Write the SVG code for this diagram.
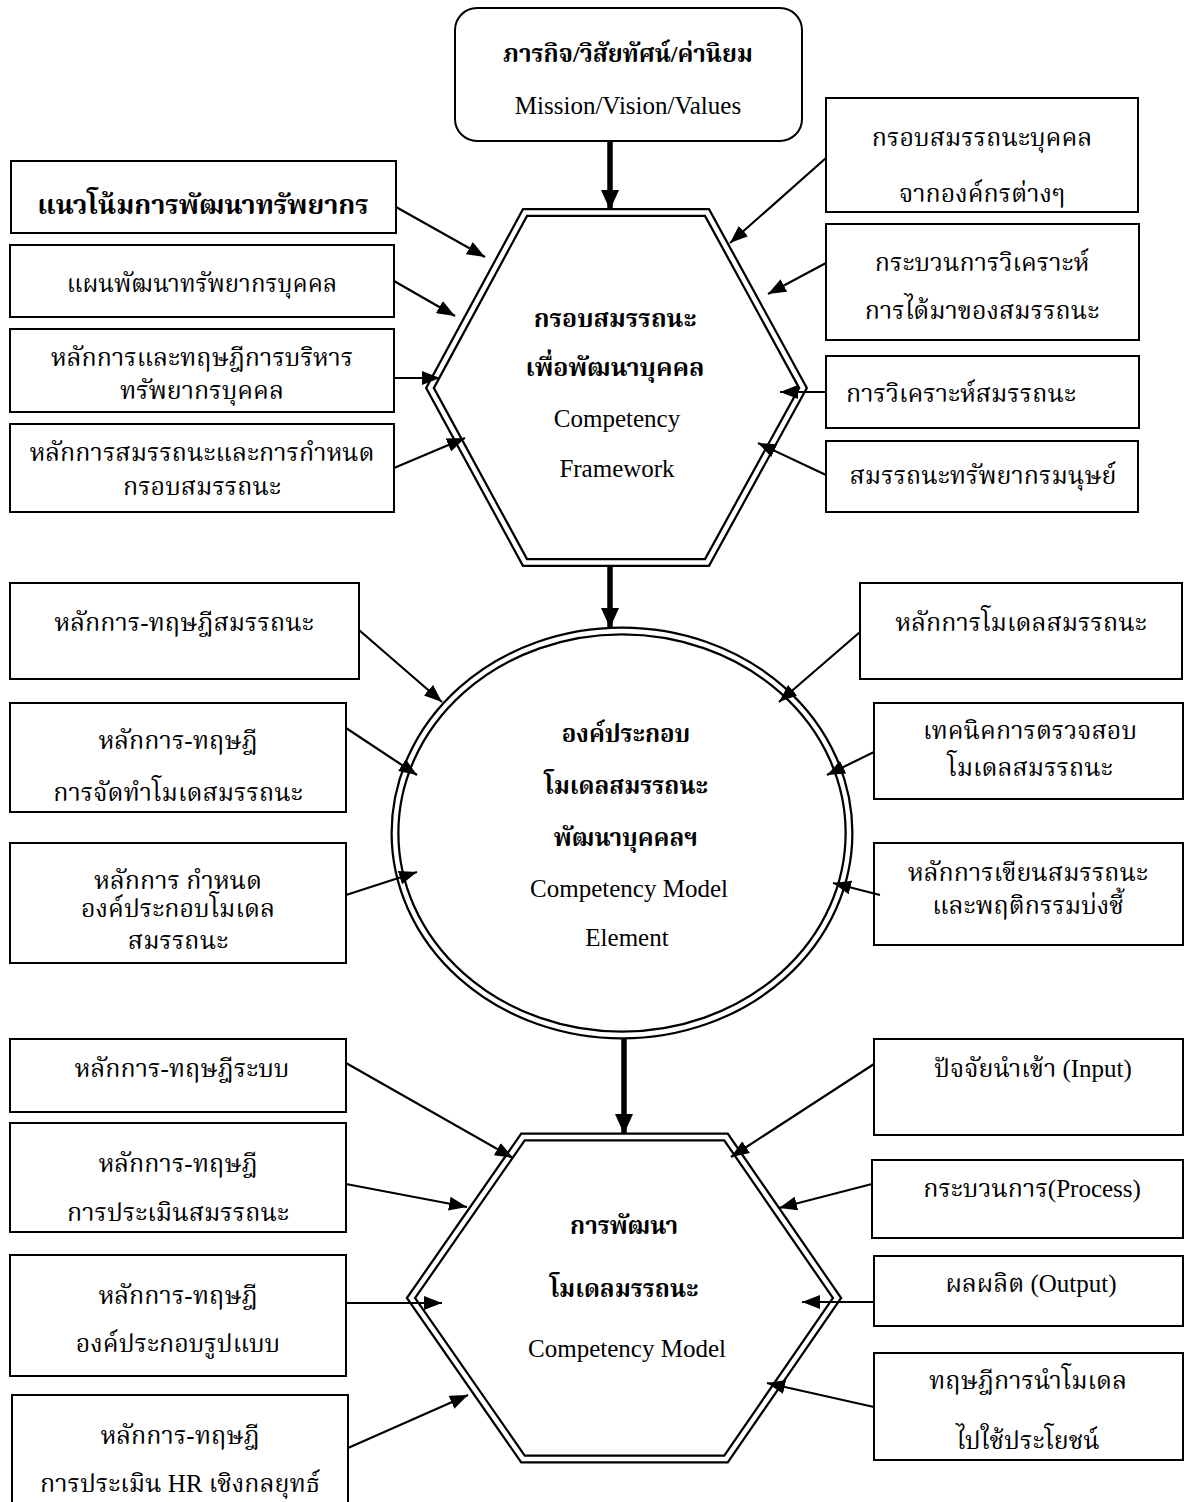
<svg xmlns="http://www.w3.org/2000/svg" width="1184" height="1502" viewBox="0 0 1184 1502">
<defs>
<style>
.box{fill:#fff;stroke:#000;stroke-width:2}
.t{font-family:"Liberation Serif","Noto Serif Thai","Noto Sans Thai Looped","Noto Sans Thai",serif;font-size:25px;fill:#000;text-anchor:middle}
.tb{font-family:"Liberation Serif","Noto Serif Thai","Noto Sans Thai Looped","Noto Sans Thai",serif;font-size:24px;font-weight:bold;fill:#000;text-anchor:middle}
.en{font-family:"Liberation Serif",serif;font-size:25px;fill:#000;text-anchor:middle}
.dbl{fill:#fff;stroke:#000;stroke-width:9;stroke-linejoin:miter}
.dblw{fill:none;stroke:#fff;stroke-width:4.5;stroke-linejoin:miter}
.c{fill:none;stroke:#000;stroke-width:2.2}
.ck{fill:none;stroke:#000;stroke-width:5.5}
</style>
<marker id="ah" markerUnits="userSpaceOnUse" markerWidth="18" markerHeight="14" refX="18" refY="7" orient="auto"><path d="M0,0 L18,7 L0,14 z" fill="#000"/></marker>
<marker id="ahk" markerUnits="userSpaceOnUse" markerWidth="20" markerHeight="18" refX="20" refY="9" orient="auto"><path d="M0,0 L20,9 L0,18 z" fill="#000"/></marker>
</defs>
<rect width="1184" height="1502" fill="#fff"/>

<g id="mission">
<rect class="box" x="455" y="8" width="347" height="133" rx="22" ry="22"/>
<text class="tb" x="628" y="62">ภารกิจ/วิสัยทัศน์/ค่านิยม</text>
<text class="en" x="628" y="114">Mission/Vision/Values</text>
</g>

<g id="hex1">
<polygon class="dbl" points="525,212.5 707,212.5 803,388 707,562.5 525,562.5 430,388"/>
<polygon class="dblw" points="525,212.5 707,212.5 803,388 707,562.5 525,562.5 430,388"/>
<text class="tb" x="615" y="327" style="font-size:25px">กรอบสมรรถนะ</text>
<text class="tb" x="615" y="376" style="font-size:25px">เพื่อพัฒนาบุคคล</text>
<text class="en" x="617" y="427">Competency</text>
<text class="en" x="617" y="477">Framework</text>
</g>

<g id="ellipse">
<ellipse class="dbl" cx="622" cy="833" rx="227" ry="202"/>
<ellipse class="dblw" cx="622" cy="833" rx="227" ry="202"/>
<text class="tb" x="626" y="742">องค์ประกอบ</text>
<text class="tb" x="626" y="794">โมเดลสมรรถนะ</text>
<text class="tb" x="626" y="846">พัฒนาบุคคลฯ</text>
<text class="en" x="629" y="897">Competency Model</text>
<text class="en" x="627" y="946">Element</text>
</g>

<g id="hex3">
<polygon class="dbl" points="523,1137 726,1137 837,1298 726,1459 523,1459 411,1298"/>
<polygon class="dblw" points="523,1137 726,1137 837,1298 726,1459 523,1459 411,1298"/>
<text class="tb" x="624" y="1234">การพัฒนา</text>
<text class="tb" x="624" y="1297">โมเดลมรรถนะ</text>
<text class="en" x="627" y="1357">Competency Model</text>
</g>

<g id="l1"><rect class="box" x="11" y="161" width="385" height="72"/><text class="tb" x="203" y="214" style="font-size:27px">แนวโน้มการพัฒนาทรัพยากร</text></g>
<g id="l2"><rect class="box" x="10" y="245" width="384" height="72"/><text class="t" x="202" y="292" style="font-size:24px">แผนพัฒนาทรัพยากรบุคคล</text></g>
<g id="l3"><rect class="box" x="10" y="329" width="384" height="83"/><text class="t" x="202" y="366">หลักการและทฤษฎีการบริหาร</text><text class="t" x="202" y="399">ทรัพยากรบุคคล</text></g>
<g id="l4"><rect class="box" x="10" y="424" width="384" height="88"/><text class="t" x="202" y="461">หลักการสมรรถนะและการกำหนด</text><text class="t" x="202" y="495">กรอบสมรรถนะ</text></g>

<g id="r1"><rect class="box" x="826" y="98" width="312" height="114"/><text class="t" x="982" y="146">กรอบสมรรถนะบุคคล</text><text class="t" x="982" y="202">จากองค์กรต่างๆ</text></g>
<g id="r2"><rect class="box" x="826" y="224" width="313" height="116"/><text class="t" x="982" y="271">กระบวนการวิเคราะห์</text><text class="t" x="982" y="319">การได้มาของสมรรถนะ</text></g>
<g id="r3"><rect class="box" x="826" y="356" width="313" height="72"/><text class="t" x="961" y="402">การวิเคราะห์สมรรถนะ</text></g>
<g id="r4"><rect class="box" x="826" y="441" width="312" height="71"/><text class="t" x="983" y="484">สมรรถนะทรัพยากรมนุษย์</text></g>

<g id="l5"><rect class="box" x="10" y="583" width="349" height="96"/><text class="t" x="184" y="631">หลักการ-ทฤษฎีสมรรถนะ</text></g>
<g id="l6"><rect class="box" x="10" y="703" width="336" height="109"/><text class="t" x="178" y="749">หลักการ-ทฤษฎี</text><text class="t" x="178" y="801">การจัดทำโมเดสมรรถนะ</text></g>
<g id="l7"><rect class="box" x="10" y="843" width="336" height="120"/><text class="t" x="178" y="889">หลักการ กำหนด</text><text class="t" x="178" y="917">องค์ประกอบโมเดล</text><text class="t" x="178" y="949">สมรรถนะ</text></g>

<g id="r5"><rect class="box" x="860" y="583" width="322" height="96"/><text class="t" x="1021" y="631">หลักการโมเดลสมรรถนะ</text></g>
<g id="r6"><rect class="box" x="874" y="703" width="309" height="96"/><text class="t" x="1030" y="739">เทคนิคการตรวจสอบ</text><text class="t" x="1030" y="776">โมเดลสมรรถนะ</text></g>
<g id="r7"><rect class="box" x="874" y="843" width="309" height="102"/><text class="t" x="1028" y="881">หลักการเขียนสมรรถนะ</text><text class="t" x="1028" y="914">และพฤติกรรมบ่งชี้</text></g>

<g id="l8"><rect class="box" x="10" y="1039" width="336" height="73"/><text class="t" x="182" y="1077">หลักการ-ทฤษฎีระบบ</text></g>
<g id="l9"><rect class="box" x="10" y="1123" width="336" height="109"/><text class="t" x="178" y="1172">หลักการ-ทฤษฎี</text><text class="t" x="178" y="1221">การประเมินสมรรถนะ</text></g>
<g id="l10"><rect class="box" x="10" y="1255" width="336" height="121"/><text class="t" x="178" y="1304">หลักการ-ทฤษฎี</text><text class="t" x="178" y="1352">องค์ประกอบรูปแบบ</text></g>
<g id="l11"><rect class="box" x="12" y="1395" width="336" height="120"/><text class="t" x="180" y="1444">หลักการ-ทฤษฎี</text><text class="t" x="180" y="1492">การประเมิน HR เชิงกลยุทธ์</text></g>

<g id="r8"><rect class="box" x="874" y="1039" width="309" height="96"/><text class="t" x="1033" y="1077">ปัจจัยนำเข้า (Input)</text></g>
<g id="r9"><rect class="box" x="872" y="1160" width="311" height="78"/><text class="t" x="1032" y="1197">กระบวนการ(Process)</text></g>
<g id="r10"><rect class="box" x="874" y="1256" width="309" height="70"/><text class="t" x="1031" y="1292">ผลผลิต (Output)</text></g>
<g id="r11"><rect class="box" x="874" y="1353" width="309" height="107"/><text class="t" x="1028" y="1389">ทฤษฎีการนำโมเดล</text><text class="t" x="1028" y="1449">ไปใช้ประโยชน์</text></g>

<g id="connectors">
<line class="ck" x1="610" y1="141" x2="610" y2="210" marker-end="url(#ahk)"/>
<line class="ck" x1="610" y1="565" x2="610" y2="628" marker-end="url(#ahk)"/>
<line class="ck" x1="624" y1="1038" x2="624" y2="1134" marker-end="url(#ahk)"/>

<line class="c" x1="396" y1="207" x2="485" y2="257" marker-end="url(#ah)"/>
<line class="c" x1="394" y1="281" x2="455" y2="316" marker-end="url(#ah)"/>
<line class="c" x1="394" y1="378" x2="440" y2="378" marker-end="url(#ah)"/>
<line class="c" x1="394" y1="468" x2="465" y2="438" marker-end="url(#ah)"/>
<line class="c" x1="826" y1="158" x2="730" y2="243" marker-end="url(#ah)"/>
<line class="c" x1="826" y1="263" x2="768" y2="294" marker-end="url(#ah)"/>
<line class="c" x1="826" y1="392" x2="780" y2="392" marker-end="url(#ah)"/>
<line class="c" x1="826" y1="475" x2="758" y2="443" marker-end="url(#ah)"/>

<line class="c" x1="359" y1="630" x2="442" y2="702" marker-end="url(#ah)"/>
<line class="c" x1="346" y1="728" x2="417" y2="775" marker-end="url(#ah)"/>
<line class="c" x1="346" y1="895" x2="417" y2="872" marker-end="url(#ah)"/>
<line class="c" x1="860" y1="632" x2="779" y2="702" marker-end="url(#ah)"/>
<line class="c" x1="874" y1="752" x2="827" y2="775" marker-end="url(#ah)"/>
<line class="c" x1="880" y1="895" x2="833" y2="883" marker-end="url(#ah)"/>

<line class="c" x1="346" y1="1063" x2="513" y2="1158" marker-end="url(#ah)"/>
<line class="c" x1="346" y1="1184" x2="467" y2="1207" marker-end="url(#ah)"/>
<line class="c" x1="346" y1="1303" x2="442" y2="1303" marker-end="url(#ah)"/>
<line class="c" x1="348" y1="1448" x2="468" y2="1395" marker-end="url(#ah)"/>
<line class="c" x1="874" y1="1064" x2="731" y2="1157" marker-end="url(#ah)"/>
<line class="c" x1="872" y1="1184" x2="779" y2="1208" marker-end="url(#ah)"/>
<line class="c" x1="874" y1="1302" x2="802" y2="1302" marker-end="url(#ah)"/>
<line class="c" x1="874" y1="1407" x2="767" y2="1383" marker-end="url(#ah)"/>
</g>
</svg>
